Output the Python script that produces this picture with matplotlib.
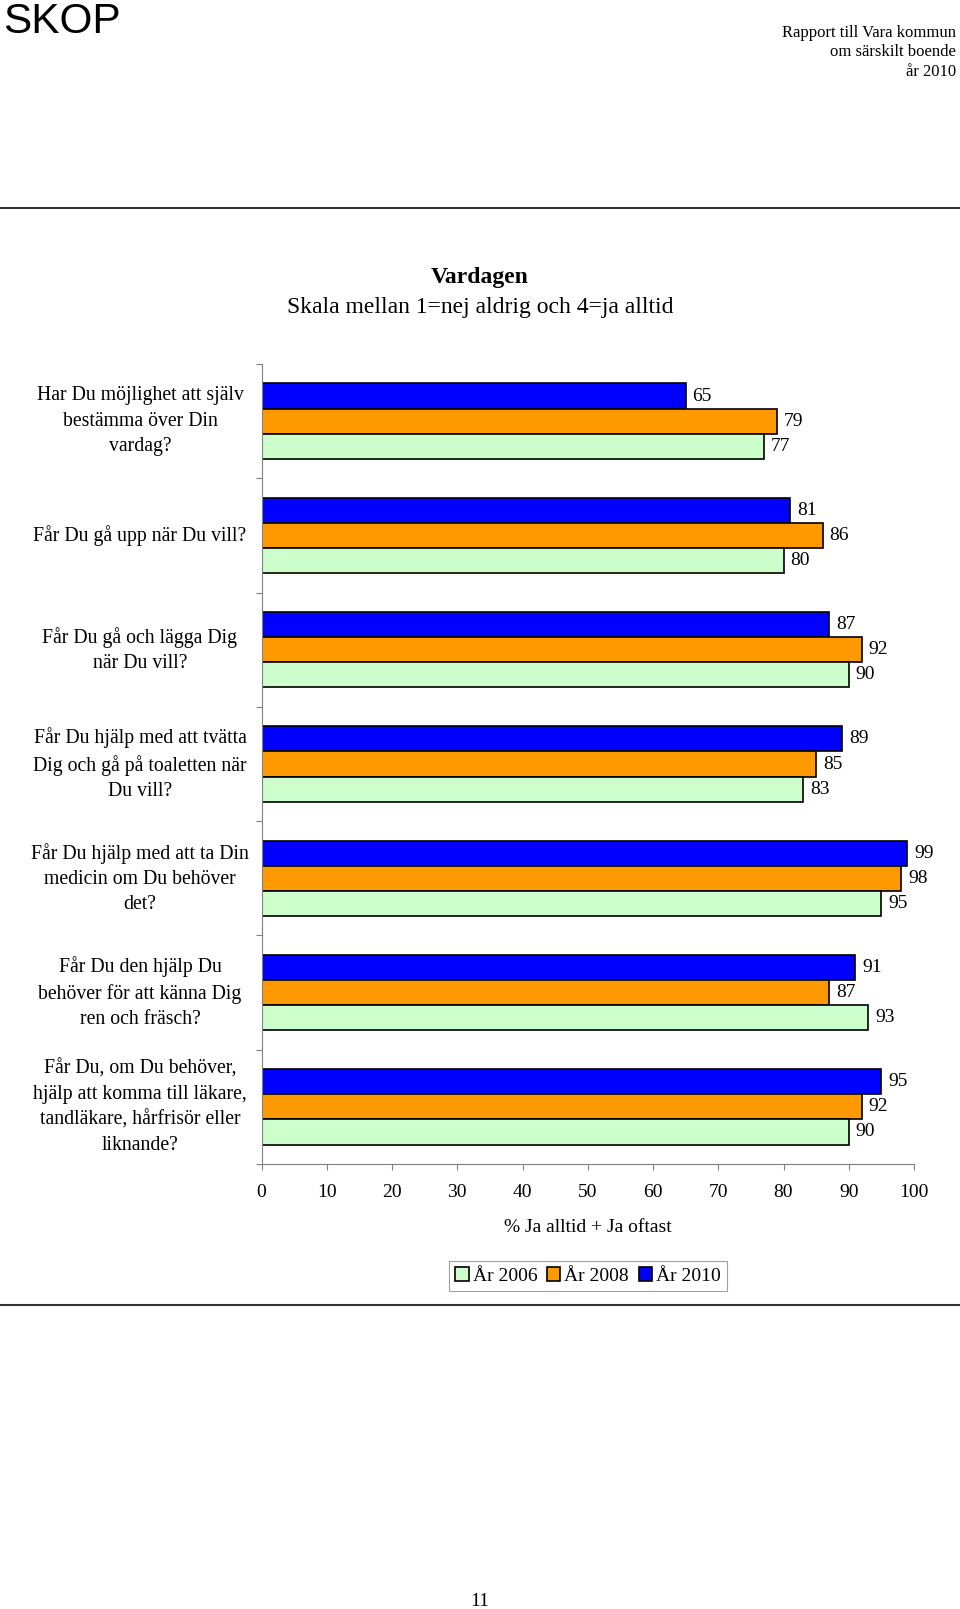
"""Vardagen - horizontal grouped bar chart from the Vara kommun report page"""

import numpy as np
import matplotlib.pyplot as plt
from matplotlib.lines import Line2D
from matplotlib.patches import Patch
from matplotlib.transforms import blended_transform_factory

# Questions, top to bottom
questions = [
    "Har Du möjlighet att själv\nbestämma över Din\nvardag?",
    "Får Du gå upp när Du vill?",
    "Får Du gå och lägga Dig\nnär Du vill?",
    "Får Du hjälp med att tvätta\nDig och gå på toaletten när\nDu vill?",
    "Får Du hjälp med att ta Din\nmedicin om Du behöver\ndet?",
    "Får Du den hjälp Du\nbehöver för att känna Dig\nren och fräsch?",
    "Får Du, om Du behöver,\nhjälp att komma till läkare,\ntandläkare, hårfrisör eller\nliknande?",
]

# % Ja alltid + Ja oftast
years = ["År 2006", "År 2008", "År 2010"]
values_2006 = [77, 80, 90, 83, 95, 93, 90]
values_2008 = [79, 86, 92, 85, 98, 87, 92]
values_2010 = [65, 81, 87, 89, 99, 91, 95]

x_ticks = [0, 10, 20, 30, 40, 50, 60, 70, 80, 90, 100]

colors = {"År 2006": "#CCFFCC", "År 2008": "#FF9900", "År 2010": "#0000FF"}

plt.rcParams['font.family'] = ['Liberation Serif', 'DejaVu Serif']

W, H = 960, 1609
fig = plt.figure(figsize=(W / 100, H / 100), dpi=100)


def fy(px):
    """pixel row (from top) to figure fraction"""
    return 1 - px / H


# page header
fig.text(3 / W, fy(2), "SKOP", family="Liberation Sans", fontsize=30.5,
         ha="left", va="top")
for i, line in enumerate(["Rapport till Vara kommun", "om särskilt boende",
                          "år 2010"]):
    fig.text(956 / W, fy(33 + 19.5 * i), line, fontsize=12,
             ha="right", va="center")
fig.add_artist(Line2D([0, 1], [fy(208), fy(208)], color="#333333", lw=1.5))
fig.add_artist(Line2D([0, 1], [fy(1305), fy(1305)], color="#333333", lw=1.5))
fig.text(480 / W, fy(1601), "11", fontsize=14, ha="center", va="center")

# title
fig.text(480 / W, fy(278), "Vardagen", fontsize=17, weight="bold",
         ha="center", va="center")
fig.text(480 / W, fy(308), "Skala mellan 1=nej aldrig och 4=ja alltid",
         fontsize=17, ha="center", va="center")

ax = fig.add_axes([261.5 / W, fy(1164), (914 - 261.5) / W, (1164 - 364) / H])

pos = np.arange(len(questions))
bar_h = 0.22
series = [("År 2010", values_2010, -bar_h),
          ("År 2008", values_2008, 0.0),
          ("År 2006", values_2006, bar_h)]
for name, vals, off in series:
    ax.barh(pos + off, vals, height=bar_h, color=colors[name],
            edgecolor="black", linewidth=1.2)
    for p, v in zip(pos, vals):
        ax.annotate(str(v), (v, p + off), xytext=(5, 0),
                    textcoords="offset points", ha="left", va="center",
                    fontsize=14)

ax.set_xlim(0, 100)
ax.set_ylim(len(questions) - 0.5, -0.5)
ax.set_xticks(x_ticks)
ax.set_yticks(np.arange(len(questions) + 1) - 0.5)
ax.set_yticklabels([])
ax.tick_params(axis="x", length=4, color="#808080", labelsize=14, pad=10.5)
ax.tick_params(axis="y", length=4, color="#808080")
for side in ["top", "right"]:
    ax.spines[side].set_visible(False)
for side in ["left", "bottom"]:
    ax.spines[side].set_color("#808080")
ax.set_xlabel("% Ja alltid + Ja oftast", fontsize=14, labelpad=13)

# question labels left of the axis
trans = blended_transform_factory(fig.transFigure, ax.transData)
for p, q in zip(pos, questions):
    ax.text(140 / W, p, q, transform=trans, ha="center", va="center",
            multialignment="center", fontsize=14.2, linespacing=1.44)

handles = [Patch(facecolor=colors[y], edgecolor="black", linewidth=1.2)
           for y in years]
leg = fig.legend(handles, years, loc="center",
                 bbox_to_anchor=(588 / W, fy(1276)), ncol=3, fontsize=14,
                 handlelength=0.7, handleheight=0.7, handletextpad=0.2,
                 columnspacing=0.5, borderpad=0.3, fancybox=False,
                 framealpha=1)
leg.get_frame().set_edgecolor("#A0A0A0")
leg.get_frame().set_linewidth(0.8)

fig.savefig("out.png", dpi=100)
